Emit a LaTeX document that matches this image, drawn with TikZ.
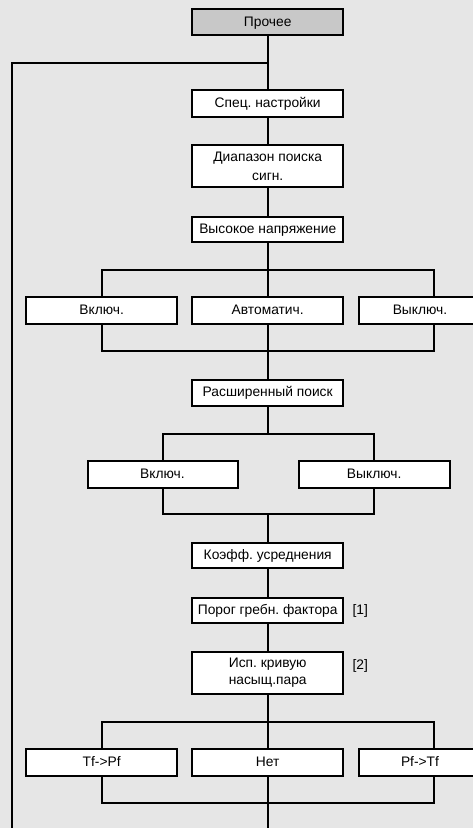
\documentclass[tikz,border=0pt]{standalone}
\usepackage{fontspec}
\setmainfont{Liberation Sans}
\frenchspacing
\definecolor{bggray}{HTML}{E6E6E6}
\definecolor{headgray}{HTML}{C8C8C8}
\begin{document}
\begin{tikzpicture}[x=1pt,y=-1pt,line width=2pt,
  box/.style={draw=black,fill=white,minimum width=151pt,minimum height=#1,inner sep=0pt,align=center,
    font=\fontsize{13.8}{18}\selectfont,text height=11.7pt,text depth=3.3pt},
  box/.default=27pt,
  twoline/.style={text height=#1,text depth=3.3pt},
  note/.style={anchor=west,inner sep=0pt,font=\fontsize{13.8}{18}\selectfont,text height=11.7pt,text depth=3.3pt}]
\useasboundingbox (0,0) rectangle (473,828);
\fill[bggray] (0,0) rectangle (473,828);
\clip (0,0) rectangle (473,828);

% nodes
\node[box=26pt,fill=headgray] (p) at (267.7,22.3) {Прочее};
\node[box=27pt] (s) at (267.7,103.6) {Спец. настройки};
\node[box=42.5pt,twoline=32.3pt,font=\fontsize{13.8}{19}\selectfont] (d) at (267.7,166) {Диапазон поиска\\сигн.};
\node[box=25.5pt] (h) at (267.7,229.4) {Высокое напряжение};

\node[box] (a1) at (101.7,310.7) {Включ.};
\node[box] (a2) at (267.7,310.7) {Автоматич.};
\node[box,minimum width=122pt] (a3) at (420,310.7) {Выключ.};

\node[box=26pt] (e) at (267.7,392.5) {Расширенный поиск};

\node[box,minimum width=150pt] (b1) at (162.5,474.2) {Включ.};
\node[box] (b2) at (374.2,474.2) {Выключ.};

\node[box=25.5pt] (k) at (267.7,555.3) {Коэфф. усреднения};
\node[box=25pt] (g) at (267.7,610) {Порог гребн. фактора};
\node[box=42.5pt,twoline=26.3pt,font=\fontsize{13.8}{16.7}\selectfont] (i) at (267.7,672.8) {Исп. кривую\\насыщ.пара};

\node[box] (c1) at (101.7,762.5) {Tf{-}>Pf};
\node[box] (c2) at (267.7,762.5) {Нет};
\node[box,minimum width=122pt] (c3) at (420,762.5) {Pf{-}>Tf};

\node[note] (n1) at (351.5,610) {[1]};
\node[note] (n2) at (351.5,665) {[2]};

% connectors
\coordinate (lp) at (267.7,63.3);
\coordinate (lb) at (11.7,840);
\draw (p) -- (s);
\draw (lp) -| (lb);
\draw (s) -- (d);
\draw (d) -- (h);

\coordinate (br1) at (434.3,270);
\coordinate (mg1) at (434.3,351);
\draw (h) -- (a2);
\draw (a1.north) |- (br1) -- (br1 |- a3.north);
\draw (a1.south) |- (mg1) -- (mg1 |- a3.south);
\draw (a2) -- (e);

\coordinate (br2) at (267.7,434);
\coordinate (mg2) at (267.7,514.3);
\draw (e) -- (br2);
\draw (b1.north) |- (br2) -| (b2.north);
\draw (b1.south) |- (mg2) -| (b2.south);
\draw (mg2) -- (k);

\draw (k) -- (g);
\draw (g) -- (i);

\coordinate (br3) at (434.3,722.3);
\coordinate (mg3) at (434.3,803.3);
\coordinate (bot) at (267.7,840);
\draw (i) -- (c2);
\draw (c1.north) |- (br3) -- (br3 |- c3.north);
\draw (c1.south) |- (mg3) -- (mg3 |- c3.south);
\draw (c2) -- (bot);
\end{tikzpicture}
\end{document}
